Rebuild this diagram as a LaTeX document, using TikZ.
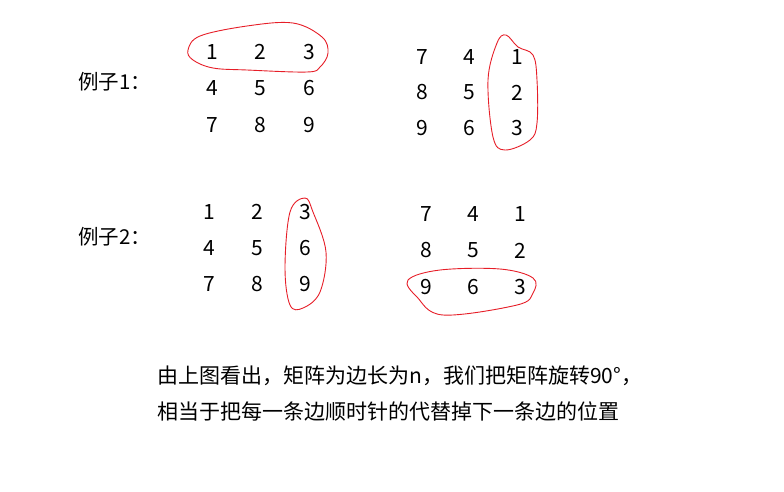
\documentclass[tikz,border=0pt]{standalone}
\usepackage{fontspec}
\setmainfont{Noto Sans CJK SC}
\begin{document}
\begin{tikzpicture}[x=1pt,y=-1pt,
  num/.style={font=\fontsize{21}{21}\selectfont,inner sep=0pt,anchor=center},
  lbl/.style={font=\fontsize{20.5}{20.5}\selectfont,inner sep=0pt,anchor=west},
  txt/.style={font=\fontsize{21}{21}\selectfont,inner sep=0pt,anchor=west},
  loop/.style={draw={rgb,255:red,230;green,30;blue,40},line width=0.9pt}]
\useasboundingbox (0,0) rectangle (784,491);
% example labels
\node[lbl] (l1) at (78,82) {例子1：};
\node[lbl] (l2) at (78,237) {例子2：};
% matrix A
\foreach \v [count=\i from 0] in {1,2,3,4,5,6,7,8,9}{
  \pgfmathtruncatemacro\r{int(\i/3)}
  \pgfmathtruncatemacro\c{mod(\i,3)}
  \node[num] (a\v) at ({212+48.5*\c},{52+36.5*\r}) {\v};
}
% matrix B (rotated)
\foreach \v [count=\i from 0] in {7,4,1,8,5,2,9,6,3}{
  \pgfmathtruncatemacro\r{int(\i/3)}
  \pgfmathtruncatemacro\c{mod(\i,3)}
  \node[num] (b\v) at ({422+47.5*\c},{57+35.5*\r}) {\v};
}
% matrix C
\foreach \v [count=\i from 0] in {1,2,3,4,5,6,7,8,9}{
  \pgfmathtruncatemacro\r{int(\i/3)}
  \pgfmathtruncatemacro\c{mod(\i,3)}
  \node[num] (c\v) at ({209+48*\c},{212+36*\r}) {\v};
}
% matrix D
\foreach \v [count=\i from 0] in {7,4,1,8,5,2,9,6,3}{
  \pgfmathtruncatemacro\r{int(\i/3)}
  \pgfmathtruncatemacro\c{mod(\i,3)}
  \node[num] (d\v) at ({426+47*\c},{214+36.5*\r}) {\v};
}
% loops
\draw[loop] plot[smooth cycle,tension=0.6] coordinates {(188,50) (200,36) (247,26) (293,23) (322,37) (328,53) (320,67) (307,72) (247,70) (213,68) (193,60)};
\draw[loop] plot[smooth cycle,tension=0.6] coordinates {(506,35) (518,47) (533,55) (537,80) (537,123) (530,140) (505,150) (493,137) (488,80) (497,43)};
\draw[loop] plot[smooth cycle,tension=0.6] coordinates {(305,198) (313,212) (326,252) (320,292) (303,308) (290,305) (285,268) (290,212)};
\draw[loop] plot[smooth cycle,tension=0.6] coordinates {(408,280) (440,270) (500,269) (533,278) (533,293) (517,305) (443,315) (417,297)};
% text
\node[txt] (t1) at (157,376) {由上图看出，矩阵为边长为n，我们把矩阵旋转90°，};
\node[txt] (t2) at (157,411) {相当于把每一条边顺时针的代替掉下一条边的位置};
\end{tikzpicture}
\end{document}
